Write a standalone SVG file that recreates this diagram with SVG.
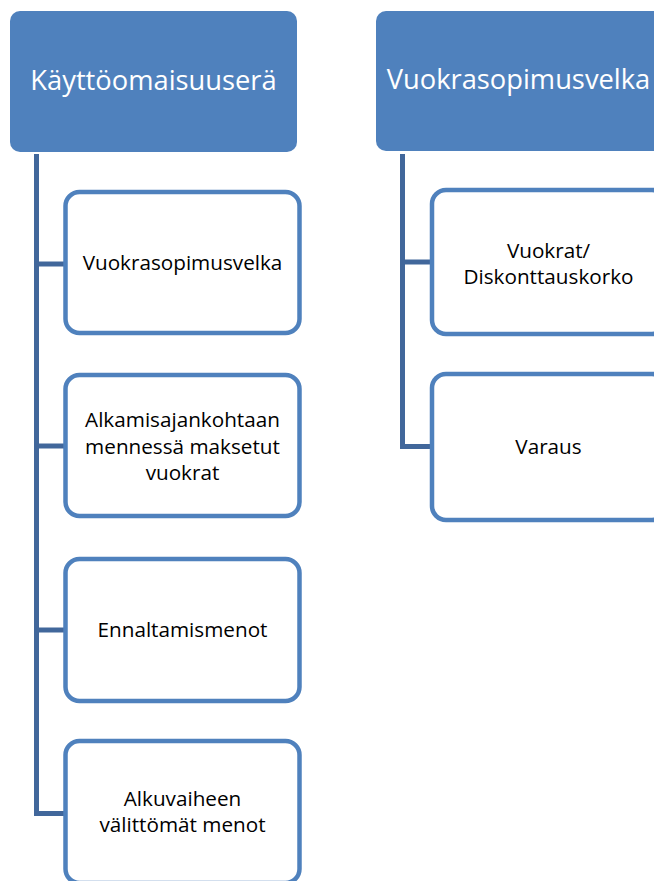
<svg xmlns="http://www.w3.org/2000/svg" width="654" height="881" viewBox="0 0 654 881">
  <style>
    .hdr { fill: #4F81BD; }
    .hdr-t { fill: #FFFFFF; font-family: "Open Sans", "Liberation Sans", sans-serif; font-size: 27.3px; text-anchor: middle; }
    .box { fill: #FFFFFF; stroke: #4F81BD; stroke-width: 4.5; }
    .box-t { fill: #000000; font-family: "Open Sans", "Liberation Sans", sans-serif; font-size: 20.7px; text-anchor: middle; }
    .conn { fill: none; stroke: #41679B; stroke-width: 5; stroke-linejoin: miter; stroke-linecap: butt; }
  </style>
  <rect width="654" height="881" fill="#FFFFFF"/>

  <g id="connectors">
    <path class="conn" d="M36.5,154 V813.5 H66"/>
    <path class="conn" d="M36.5,264 H66"/>
    <path class="conn" d="M36.5,446 H66"/>
    <path class="conn" d="M36.5,630 H66"/>
    <path class="conn" d="M402.5,154 V446.5 H432"/>
    <path class="conn" d="M402.5,262 H432"/>
  </g>

  <g id="header-kayttoomaisuusera">
    <rect class="hdr" x="10" y="11" width="287" height="141" rx="10"/>
    <text class="hdr-t" x="153.5" y="90">Käyttöomaisuuserä</text>
  </g>

  <g id="header-vuokrasopimusvelka">
    <rect class="hdr" x="376" y="11" width="287" height="140" rx="10"/>
    <text class="hdr-t" x="518.5" y="89">Vuokrasopimusvelka</text>
  </g>

  <g id="node-vuokrasopimusvelka">
    <rect class="box" x="65.5" y="192" width="234" height="141" rx="14"/>
    <text class="box-t" x="182.5" y="270">Vuokrasopimusvelka</text>
  </g>

  <g id="node-alkamisajankohtaan">
    <rect class="box" x="65.5" y="375" width="234" height="141" rx="14"/>
    <text class="box-t" x="182.5" y="427">Alkamisajankohtaan</text>
    <text class="box-t" x="182.5" y="454">mennessä maksetut</text>
    <text class="box-t" x="182.5" y="480">vuokrat</text>
  </g>

  <g id="node-ennaltamismenot">
    <rect class="box" x="65.5" y="559" width="234" height="142" rx="14"/>
    <text class="box-t" x="182.5" y="637">Ennaltamismenot</text>
  </g>

  <g id="node-alkuvaiheen">
    <rect class="box" x="65.5" y="741" width="234" height="142" rx="14"/>
    <text class="box-t" x="182.5" y="806">Alkuvaiheen</text>
    <text class="box-t" x="182.5" y="832">välittömät menot</text>
  </g>

  <g id="node-vuokrat-diskonttauskorko">
    <rect class="box" x="432" y="190" width="234" height="144" rx="14"/>
    <text class="box-t" x="548.5" y="258">Vuokrat/</text>
    <text class="box-t" x="548.5" y="284">Diskonttauskorko</text>
  </g>

  <g id="node-varaus">
    <rect class="box" x="432" y="374" width="234" height="146" rx="14"/>
    <text class="box-t" x="548.5" y="454">Varaus</text>
  </g>
</svg>
